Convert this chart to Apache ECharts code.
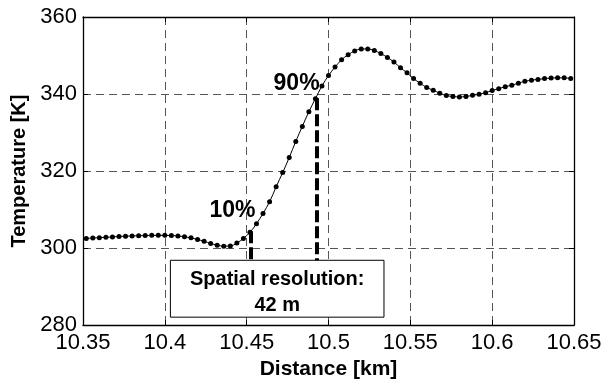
<!DOCTYPE html>
<html>
<head>
<meta charset="utf-8">
<script src="https://cdn.jsdelivr.net/npm/echarts@6/dist/echarts.min.js"></script>
<style>
html,body{margin:0;padding:0;background:#fff;}
#c{width:605px;height:385px;}
</style>
</head>
<body>
<div id="c"></div>
<script>
// ---- data ----
const distanceKm = [
  10.352,10.356,10.360,10.364,10.368,10.372,10.376,10.380,10.384,10.388,
  10.392,10.396,10.400,10.404,10.408,10.412,10.416,10.420,10.424,10.428,
  10.432,10.436,10.440,10.444,10.448,10.452,10.456,10.460,10.464,10.468,
  10.472,10.476,10.480,10.484,10.488,10.492,10.496,10.500,10.504,10.508,
  10.512,10.516,10.520,10.524,10.528,10.532,10.536,10.540,10.544,10.548,
  10.552,10.556,10.560,10.564,10.568,10.572,10.576,10.580,10.584,10.588,
  10.592,10.596,10.600,10.604,10.608,10.612,10.616,10.620,10.624,10.628,
  10.632,10.636,10.640,10.644,10.648
];
const temperatureK = [
  302.5,302.6,302.7,302.8,302.9,303.0,303.1,303.15,303.2,303.25,
  303.3,303.3,303.3,303.25,303.15,302.95,302.65,302.25,301.75,301.2,
  300.75,300.5,300.55,301.3,302.5,304.1,306.3,309.0,312.0,315.9,
  319.6,323.5,327.7,331.6,335.4,338.8,342.1,344.8,347.0,348.9,
  350.2,351.2,351.7,351.7,351.3,350.5,349.5,348.3,346.8,345.5,
  344.0,342.8,341.7,341.0,340.2,339.6,339.35,339.25,339.35,339.65,
  339.95,340.35,340.9,341.4,341.9,342.3,342.8,343.3,343.6,343.8,
  344.0,344.15,344.2,344.2,344.0
];
const xTicks = [10.35, 10.4, 10.45, 10.5, 10.55, 10.6, 10.65];
const yTicks = [280, 300, 320, 340, 360];
// annotations (data coordinates)
const level10 = { x: 10.4527, top: 304.4, label: '10%', labelAt: [10.4413, 309.6] };
const level90 = { x: 10.4926, top: 338.9, label: '90%', labelAt: [10.4805, 342.7] };
const resolutionBox = { x0: 10.4034, x1: 10.5339, y0: 282.06, y1: 296.83, text: 'Spatial resolution:\n42 m' };

const seriesData = distanceKm.map((d, i) => [d, temperatureK[i]]);
const FONT = '"Liberation Sans", Arial, Helvetica, sans-serif';

const chart = echarts.init(document.getElementById('c'), null, { renderer: 'canvas' });
const baseX = {
  type: 'value', min: xTicks[0], max: xTicks[xTicks.length - 1], interval: 0.05
};
const baseY = {
  type: 'value', min: yTicks[0], max: yTicks[yTicks.length - 1], interval: 20
};
const fmt = v => String(parseFloat(v.toFixed(2)));

chart.setOption({
  animation: false,
  backgroundColor: '#fff',
  grid: { left: 83, right: 31, top: 17, bottom: 57, containLabel: false },
  xAxis: [
    Object.assign({}, baseX, {
      position: 'bottom',
      name: 'Distance [km]', nameLocation: 'middle', nameGap: 29,
      nameTextStyle: { fontFamily: FONT, fontWeight: 'bold', fontSize: 21, color: '#000' },
      axisLine: { show: true, onZero: false, lineStyle: { color: '#000', width: 1.3 } },
      axisTick: { show: true, inside: true, length: 5, lineStyle: { color: '#000' } },
      axisLabel: { show: true, margin: 7, fontFamily: FONT, fontSize: 22, color: '#000', formatter: fmt, showMinLabel: true, showMaxLabel: true },
      splitLine: { show: true, lineStyle: { color: '#555', type: [8, 5], width: 1 } }
    }),
    Object.assign({}, baseX, {
      position: 'top',
      axisLine: { show: true, onZero: false, lineStyle: { color: '#000', width: 1.3 } },
      axisTick: { show: true, inside: true, length: 5, lineStyle: { color: '#000' } },
      axisLabel: { show: false },
      splitLine: { show: false }
    })
  ],
  yAxis: [
    Object.assign({}, baseY, {
      position: 'left',
      name: 'Temperature [K]', nameLocation: 'middle', nameGap: 52, nameRotate: 90,
      nameTextStyle: { fontFamily: FONT, fontWeight: 'bold', fontSize: 20, color: '#000' },
      axisLine: { show: true, onZero: false, lineStyle: { color: '#000', width: 1.3 } },
      axisTick: { show: true, inside: true, length: 5, lineStyle: { color: '#000' } },
      axisLabel: { show: true, margin: 6, fontFamily: FONT, fontSize: 22, color: '#000' },
      splitLine: { show: true, lineStyle: { color: '#555', type: [8, 5], width: 1 } }
    }),
    Object.assign({}, baseY, {
      position: 'right',
      axisLine: { show: true, onZero: false, lineStyle: { color: '#000', width: 1.3 } },
      axisTick: { show: true, inside: true, length: 5, lineStyle: { color: '#000' } },
      axisLabel: { show: false },
      splitLine: { show: false }
    })
  ],
  series: [
    {
      type: 'line',
      xAxisIndex: 0, yAxisIndex: 0,
      data: seriesData,
      smooth: 0.35,
      symbol: 'circle',
      symbolSize: 5,
      itemStyle: { color: '#000' },
      lineStyle: { color: '#000', width: 1 },
      z: 5,
      markLine: {
        silent: true,
        symbol: 'none',
        label: { show: false },
        lineStyle: { color: '#000', width: 4, type: [12, 4] },
        data: [
          [{ coord: [level10.x, level10.top] }, { coord: [level10.x, resolutionBox.y1] }],
          [{ coord: [level90.x, level90.top] }, { coord: [level90.x, resolutionBox.y1] }]
        ]
      },
      markArea: {
        silent: true,
        itemStyle: { color: '#fff', borderColor: '#000', borderWidth: 1 },
        label: {
          show: true, position: 'inside', fontFamily: FONT, fontWeight: 'bold',
          fontSize: 20, color: '#000', lineHeight: 26, align: 'center', offset: [0, 4]
        },
        data: [[
          { name: resolutionBox.text, coord: [resolutionBox.x0, resolutionBox.y1] },
          { coord: [resolutionBox.x1, resolutionBox.y0] }
        ]]
      },
      markPoint: {
        silent: true,
        symbol: 'circle', symbolSize: 0,
        label: {
          show: true, position: 'inside', fontFamily: FONT, fontWeight: 'bold',
          fontSize: 23, color: '#000', formatter: p => p.name
        },
        data: [
          { name: level10.label, coord: level10.labelAt },
          { name: level90.label, coord: level90.labelAt }
        ]
      }
    }
  ]
});
</script>
</body>
</html>
